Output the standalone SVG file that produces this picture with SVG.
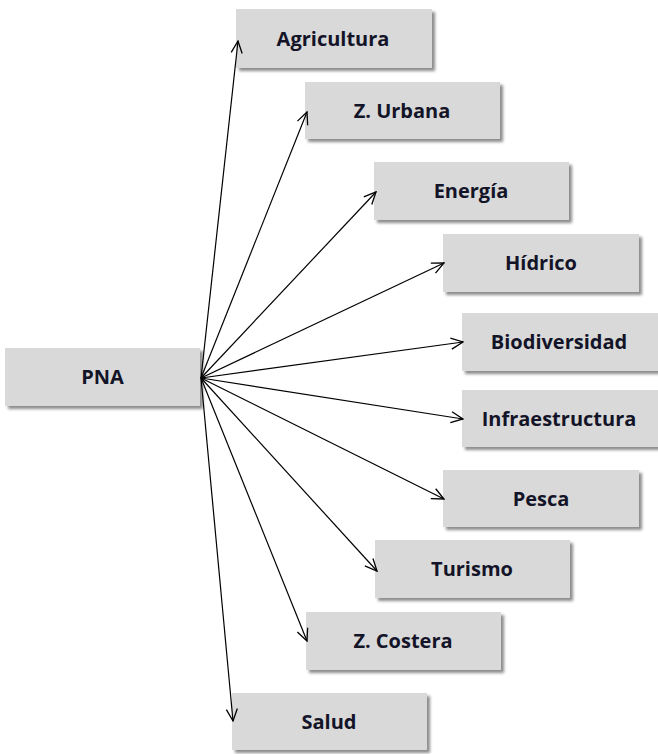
<svg xmlns="http://www.w3.org/2000/svg" width="658" height="754" viewBox="0 0 658 754">
<defs>
<filter id="sh" x="-10%" y="-20%" width="130%" height="150%">
<feDropShadow dx="3" dy="3" stdDeviation="1.8" flood-color="#000" flood-opacity="0.45"/>
</filter>
<marker id="ah" viewBox="0 0 14 14" refX="13" refY="7" markerWidth="14" markerHeight="14" markerUnits="userSpaceOnUse" orient="auto">
<path d="M1,1.5 L13,7 L1,12.5" fill="none" stroke="#000" stroke-width="1.3"/>
</marker>
<style>
.box{fill:#d9d9d9;filter:url(#sh)}
.lbl{font-family:"Open Sans","Liberation Sans",sans-serif;font-weight:bold;font-size:20px;fill:#141428;text-anchor:middle}
.c{stroke:#000;stroke-width:1.2;fill:none;marker-end:url(#ah)}
</style>
</defs>
<g id="pna"><rect class="box" x="5" y="348" width="195" height="58"/><text class="lbl" x="102.5" y="384">PNA</text></g>
<g id="agricultura"><rect class="box" x="236" y="9" width="196" height="59"/><text class="lbl" x="333" y="46">Agricultura</text></g>
<g id="z-urbana"><rect class="box" x="305" y="82" width="195" height="57"/><text class="lbl" x="402" y="118">Z. Urbana</text></g>
<g id="energia"><rect class="box" x="374" y="162" width="195" height="58"/><text class="lbl" x="471" y="198">Energía</text></g>
<g id="hidrico"><rect class="box" x="443" y="234" width="196" height="58"/><text class="lbl" x="541" y="270">Hídrico</text></g>
<g id="biodiversidad"><rect class="box" x="462" y="313" width="196" height="58"/><text class="lbl" x="559" y="349">Biodiversidad</text></g>
<g id="infraestructura"><rect class="box" x="462" y="390" width="196" height="57"/><text class="lbl" x="559" y="426">Infraestructura</text></g>
<g id="pesca"><rect class="box" x="443" y="470" width="196" height="57"/><text class="lbl" x="541" y="506">Pesca</text></g>
<g id="turismo"><rect class="box" x="375" y="540" width="195" height="58"/><text class="lbl" x="472" y="576">Turismo</text></g>
<g id="z-costera"><rect class="box" x="306" y="612" width="195" height="58"/><text class="lbl" x="403" y="648">Z. Costera</text></g>
<g id="salud"><rect class="box" x="232" y="693" width="195" height="57"/><text class="lbl" x="329" y="729">Salud</text></g>
<g id="connectors">
<line class="c" x1="201" y1="378" x2="238" y2="41"/>
<line class="c" x1="201" y1="378" x2="307" y2="112"/>
<line class="c" x1="201" y1="378" x2="376" y2="192"/>
<line class="c" x1="201" y1="378" x2="444" y2="263"/>
<line class="c" x1="201" y1="378" x2="463" y2="342"/>
<line class="c" x1="201" y1="378" x2="463" y2="419"/>
<line class="c" x1="201" y1="378" x2="444" y2="499"/>
<line class="c" x1="201" y1="378" x2="377" y2="571"/>
<line class="c" x1="201" y1="378" x2="307" y2="641"/>
<line class="c" x1="201" y1="378" x2="233" y2="721"/>
</g>
</svg>
